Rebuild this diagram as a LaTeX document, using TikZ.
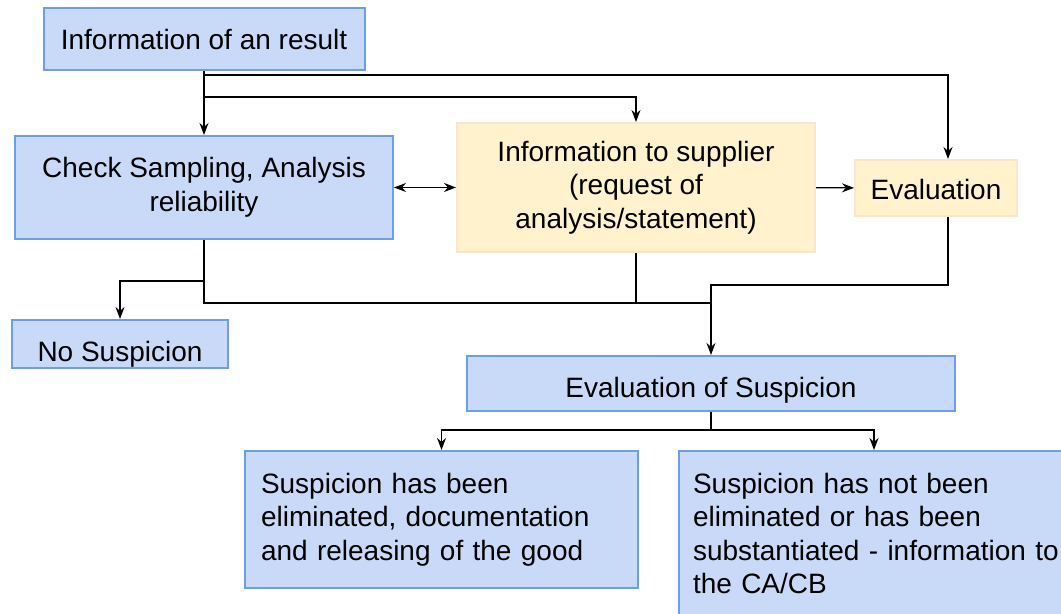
\documentclass[tikz,border=0pt]{standalone}
\usepackage{fontspec}
\setmainfont{Liberation Sans}
\usetikzlibrary{arrows.meta}
\pgfdeclarelayer{bg}
\pgfsetlayers{bg,main}
\definecolor{boxblue}{HTML}{C9DAF8}
\definecolor{lineblue}{HTML}{6D9EEB}
\definecolor{boxyellow}{HTML}{FFF2CC}
\definecolor{lineorange}{HTML}{FCE5CD}
\tikzset{
  bluebox/.style={draw=lineblue, line width=1pt, fill=boxblue, align=center, inner sep=0pt},
  yellowbox/.style={draw=lineorange, line width=1pt, fill=boxyellow, align=center, inner sep=0pt},
  textbox/.style={bluebox, anchor=north, align=left, inner xsep=8pt, inner ysep=11pt},
  arr/.style={-{Stealth[length=6pt,width=4.5pt]}, line width=0.65pt},
  dblarr/.style={{Stealth[length=6pt,width=4.5pt]}-{Stealth[length=6pt,width=4.5pt]}, line width=0.65pt},
  plain/.style={line width=0.65pt}
}

\begin{document}
\begin{tikzpicture}[x=0.5pt, y=-0.5pt, font=\fontsize{14}{16.75}\selectfont]
        \clip (0,0) rectangle (1061,614);
        \node (res) [bluebox, minimum width=160.5pt, minimum height=31pt] at (204,39) {Information of an result};
        \node (chk) [bluebox, minimum width=189pt, minimum height=51.5pt] at (204,187.5) {Check Sampling, Analysis\\reliability};
        \node (sup) [yellowbox, minimum width=179pt, minimum height=64.5pt] at (636,187.5) {Information to supplier\\(request of\\analysis/statement)};
        \node (ev) [yellowbox, minimum width=81pt, minimum height=28pt, text height=14.2pt, text depth=3pt] at (936,188) {Evaluation};
        \node (nos) [bluebox, anchor=south, minimum width=108pt, text height=21pt, text depth=3pt] at (120,369) {No Suspicion};
        \node (es) [bluebox, minimum width=244pt, minimum height=27.5pt, text height=17.2pt, text depth=3pt] at (711,383.5) {Evaluation of Suspicion};
        \node (lft) [textbox, text width=180.5pt] at (441.5,450) {Suspicion has been\\eliminated, documentation\\and releasing of the good};
        \node (rgt) [textbox, anchor=north west, inner xsep=7pt, text width=192pt] at (678,450) {Suspicion has not been\\eliminated or has been\\substantiated - information to\\the CA/CB};
        \coordinate (j1) at (204,75);
        \coordinate (j2) at (204,97);
        \coordinate (k1) at (204,281);
        \coordinate (j3) at (204,303);
        \coordinate (j4) at (711,303);
        \coordinate (k2) at (711,285);
        \coordinate (k3) at (711,430);
        \begin{pgfonlayer}{bg}
                \draw [arr] (res) -- (chk);
                \draw [arr] (j1) -| ([xshift=6pt]ev.north);
                \draw [arr] (j2) -| (sup);
                \draw [dblarr] (chk) -- (sup);
                \draw [arr] (sup) -- (ev);
                \draw [plain] (chk) -- (j3) -- (j4);
                \draw [arr] (k1) -| (nos);
                \draw [plain] (sup) -- (sup |- j4);
                \draw [arr] ([xshift=6pt]ev.south) |- (k2) -- (es);
                \draw [plain] (es) -- (k3);
                \draw [arr] (k3) -| (lft);
                \draw [arr] (k3) -| ([xshift=98pt]rgt.north west);
        \end{pgfonlayer}
\end{tikzpicture}
\end{document}
